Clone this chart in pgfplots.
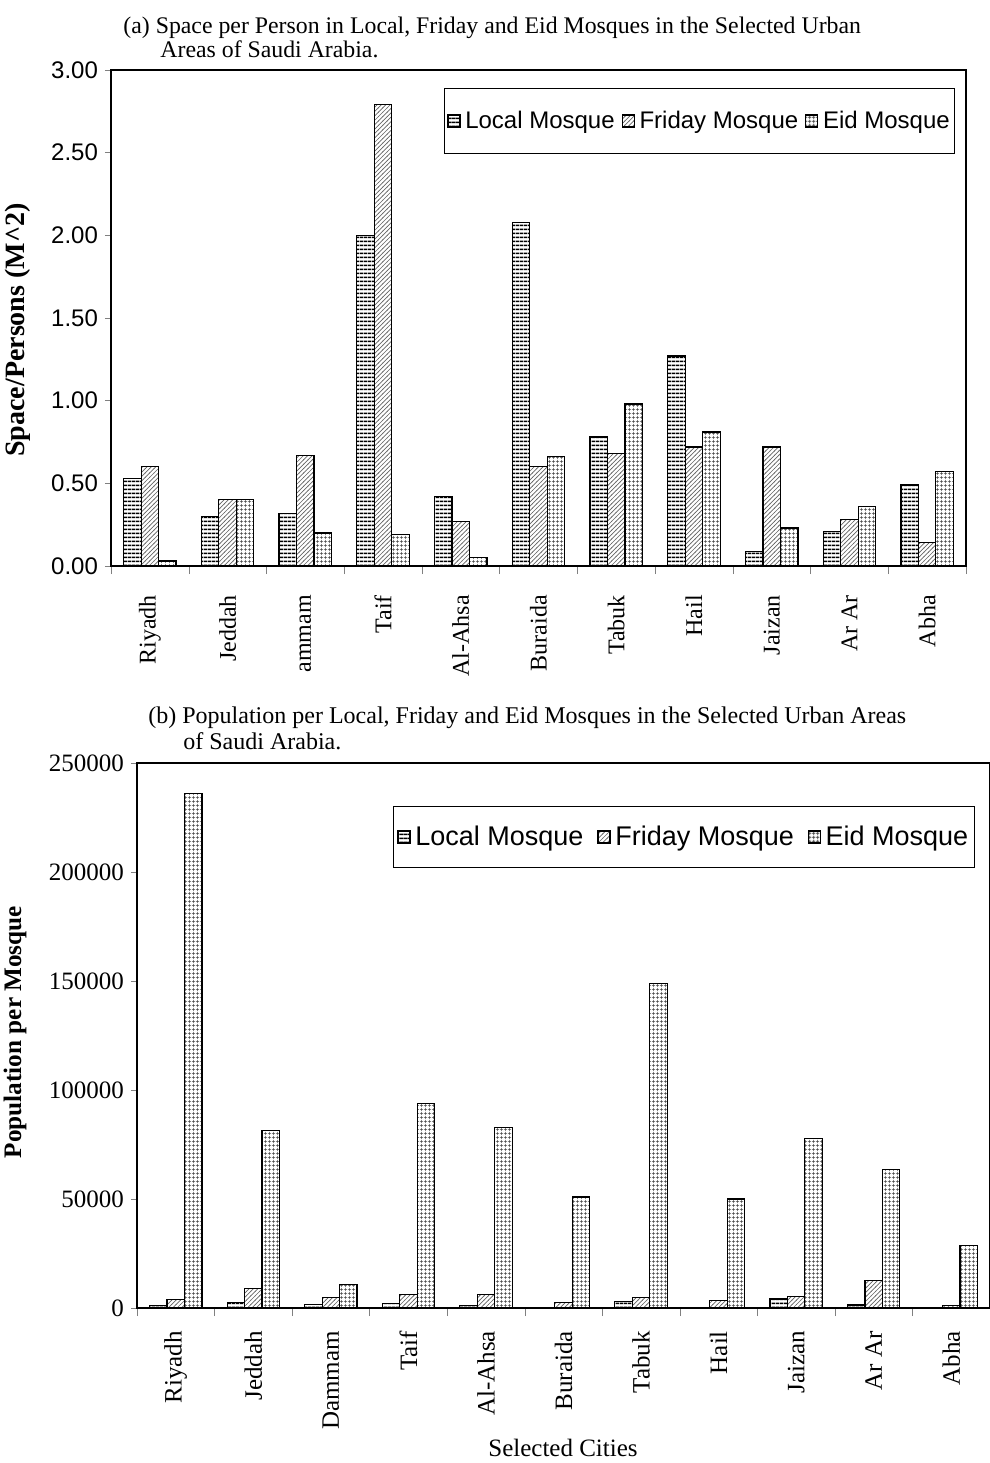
\documentclass[border=0pt]{standalone}
\usepackage{fontspec}
\setmainfont{Liberation Serif}
\setsansfont{Liberation Sans}
\usepackage{pgfplots}
\pgfplotsset{compat=1.18}
\usetikzlibrary{patterns}

\pgfdeclarepatternformonly{hl}{\pgfqpoint{0pt}{0pt}}{\pgfqpoint{2pt}{1.8pt}}{\pgfqpoint{2pt}{1.8pt}}{%
  \pgfsetlinewidth{0.75pt}\pgfpathmoveto{\pgfqpoint{-0.1pt}{0.9pt}}\pgfpathlineto{\pgfqpoint{2.1pt}{0.9pt}}\pgfusepath{stroke}}
\pgfdeclarepatternformonly{dl}{\pgfqpoint{-0.2pt}{-0.2pt}}{\pgfqpoint{2.4pt}{2.4pt}}{\pgfqpoint{2.2pt}{2.2pt}}{%
  \pgfsetlinewidth{0.35pt}\pgfpathmoveto{\pgfqpoint{-0.2pt}{-0.2pt}}\pgfpathlineto{\pgfqpoint{2.4pt}{2.4pt}}\pgfusepath{stroke}}
\pgfdeclarepatternformonly{gr}{\pgfqpoint{0pt}{0pt}}{\pgfqpoint{2pt}{2pt}}{\pgfqpoint{2pt}{2pt}}{%
  \pgfsetlinewidth{0.4pt}\pgfpathmoveto{\pgfqpoint{0pt}{1pt}}\pgfpathlineto{\pgfqpoint{2pt}{1pt}}%
  \pgfpathmoveto{\pgfqpoint{1pt}{0pt}}\pgfpathlineto{\pgfqpoint{1pt}{2pt}}\pgfusepath{stroke}}

\pgfplotsset{
  mosque/.style={
    scale only axis, anchor=south west,
    xmin=-0.5, xmax=10.5, ymin=0,
    ybar, bar width=0.225,
    axis line style={line width=0.8pt},
    tick align=outside,
    xtick={0,...,10},
    major x tick style={draw=none},
    minor xtick={-0.5,0.5,...,10.5},
    minor tick length=4pt,
    major tick length=3pt,
    ytick pos=left, xtick pos=bottom,
    x tick label style={rotate=90, anchor=east},
    /pgf/number format/assume math mode=true,
    legend image code/.code={\draw[#1] (0pt,-3pt) rectangle (6pt,3pt); \path (7.5pt,0pt);},
  },
  loc/.style={draw=black, line width=0.6pt, pattern=hl, pattern color=black, bar shift=-0.225},
  fri/.style={draw=black, line width=0.6pt, pattern=dl, pattern color=black!60, bar shift=0},
  eid/.style={draw=black, line width=0.6pt, pattern=gr, pattern color=black!75, bar shift=0.225},
}

\begin{document}
\begin{tikzpicture}
\useasboundingbox (0,0) rectangle (495pt,-731.5pt);

% ---------- (a) ----------
\node[anchor=west, inner sep=0, font=\fontsize{11.9}{13}\selectfont] at (61.5pt,-14pt)
  {(a) Space per Person in Local, Friday and Eid Mosques in the Selected Urban};
\node[anchor=west, inner sep=0, font=\fontsize{11.9}{13}\selectfont] at (80pt,-24.5pt)
  {Areas of Saudi Arabia.};

\begin{axis}[mosque,
  at={(55.5pt,-283pt)}, width=427.5pt, height=248pt,
  ymax=3,
  ytick={0,0.5,1,1.5,2,2.5,3},
  y tick label style={font=\sffamily\fontsize{12}{14}\selectfont},
  /pgf/number format/fixed, /pgf/number format/fixed zerofill, /pgf/number format/precision=2,
  xticklabels={Riyadh,Jeddah,ammam,Taif,Al-Ahsa,Buraida,Tabuk,Hail,Jaizan,Ar Ar,Abha},
  x tick label style={font=\fontsize{12}{14}\selectfont},
  xticklabel shift=8pt,
  legend style={at={(rel axis cs:1,1)}, anchor=north east, xshift=-5.5pt, yshift=-9pt,
    draw=black, font=\sffamily\fontsize{12}{14}\selectfont, legend columns=3,
    nodes={inner sep=0.9pt},
    inner xsep=1.5pt, inner ysep=10.25pt,
    /tikz/every even column/.append style={column sep=2.5pt}},
]
\addplot[loc] coordinates {(0,0.53) (1,0.30) (2,0.32) (3,2.00) (4,0.42) (5,2.08) (6,0.78) (7,1.27) (8,0.09) (9,0.21) (10,0.49)};
\addplot[fri] coordinates {(0,0.60) (1,0.40) (2,0.67) (3,2.79) (4,0.27) (5,0.60) (6,0.68) (7,0.72) (8,0.72) (9,0.28) (10,0.14)};
\addplot[eid] coordinates {(0,0.03) (1,0.40) (2,0.20) (3,0.19) (4,0.05) (5,0.66) (6,0.98) (7,0.81) (8,0.23) (9,0.36) (10,0.57)};
\legend{Local Mosque,Friday Mosque,Eid Mosque}
\end{axis}
\node[rotate=90, font=\bfseries\fontsize{14}{16}\selectfont] at (9pt,-165pt) {Space/Persons (M\^{}2)};

% ---------- (b) ----------
\node[anchor=west, inner sep=0, font=\fontsize{12}{13}\selectfont] at (74pt,-359pt)
  {(b) Population per Local, Friday and Eid Mosques in the Selected Urban Areas};
\node[anchor=west, inner sep=0, font=\fontsize{12}{13}\selectfont] at (91.5pt,-370.5pt)
  {of Saudi Arabia.};

\begin{axis}[mosque,
  at={(68.5pt,-654pt)}, width=426.5pt, height=272.5pt,
  ymax=250000,
  ytick={0,50000,100000,150000,200000,250000},
  scaled y ticks=false,
  /pgf/number format/fixed, /pgf/number format/precision=0,
  /pgf/number format/set thousands separator={},
  y tick label style={font=\fontsize{12.5}{14}\selectfont},
  xticklabels={Riyadh,Jeddah,Dammam,Taif,Al-Ahsa,Buraida,Tabuk,Hail,Jaizan,Ar Ar,Abha},
  x tick label style={font=\fontsize{12.5}{14}\selectfont},
  xticklabel shift=5pt,
  legend style={at={(rel axis cs:1,1)}, anchor=north east, xshift=-7.5pt, yshift=-21.5pt,
    draw=black, font=\sffamily\fontsize{13.5}{15}\selectfont, legend columns=3,
    nodes={inner sep=0.9pt},
    inner xsep=2.25pt, inner ysep=8.75pt,
    /tikz/every even column/.append style={column sep=6pt}},
]
\addplot[loc] coordinates {(0,1000) (1,2700) (2,1500) (3,2100) (4,1100) (5,300) (6,3000) (7,400) (8,4100) (9,1400) (10,300)};
\addplot[fri] coordinates {(0,3800) (1,8900) (2,4700) (3,6300) (4,6300) (5,2700) (6,5000) (7,3600) (8,5300) (9,12700) (10,1200)};
\addplot[eid] coordinates {(0,236000) (1,81600) (2,10700) (3,93800) (4,82900) (5,50900) (6,149000) (7,50000) (8,77600) (9,63500) (10,28700)};
\legend{Local Mosque,Friday Mosque,Eid Mosque}
\end{axis}
\node[rotate=90, font=\bfseries\fontsize{12.6}{15}\selectfont] at (7.5pt,-516pt) {Population per Mosque};
\node[font=\fontsize{12.5}{14}\selectfont] at (281.5pt,-724pt) {Selected Cities};
\end{tikzpicture}
\end{document}
